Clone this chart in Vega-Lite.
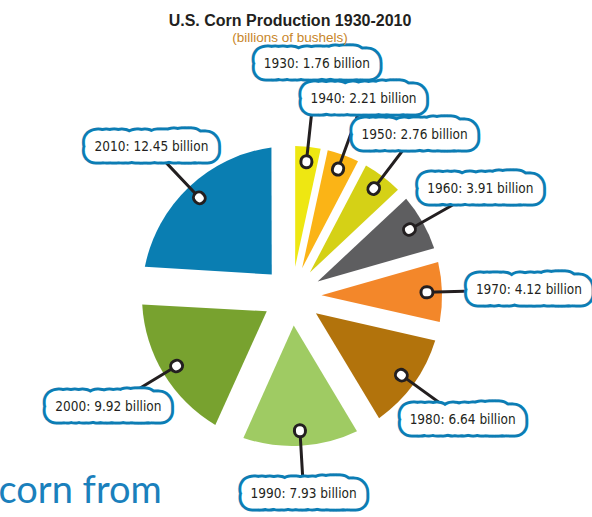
{
  "$schema": "https://vega.github.io/schema/vega-lite/v6.json",
  "width": 584,
  "height": 442,
  "autosize": {"type": "none"},
  "padding": {"left": 0, "top": 75, "right": 8, "bottom": 0},
  "background": "#ffffff",
  "view": {"stroke": null},
  "config": {"font": "Liberation Sans"},
  "title": {
    "text": "U.S. Corn Production 1930-2010",
    "subtitle": "(billions of bushels)",
    "font": "Liberation Sans",
    "fontSize": 16,
    "fontWeight": "bold",
    "color": "#231f20",
    "subtitleFont": "Liberation Sans",
    "subtitleFontSize": 13.5,
    "subtitleColor": "#c8862a",
    "subtitlePadding": 2,
    "anchor": "middle",
    "offset": 13,
    "dx": -2
  },
  "data": {
    "values": [
      {"year": "1930", "value": 1.76, "label": "1930: 1.76 billion"},
      {"year": "1940", "value": 2.21, "label": "1940: 2.21 billion"},
      {"year": "1950", "value": 2.76, "label": "1950: 2.76 billion"},
      {"year": "1960", "value": 3.91, "label": "1960: 3.91 billion"},
      {"year": "1970", "value": 4.12, "label": "1970: 4.12 billion"},
      {"year": "1980", "value": 6.64, "label": "1980: 6.64 billion"},
      {"year": "1990", "value": 7.93, "label": "1990: 7.93 billion"},
      {"year": "2000", "value": 9.92, "label": "2000: 9.92 billion"},
      {"year": "2010", "value": 12.45, "label": "2010: 12.45 billion"}
    ]
  },
  "layer": [
    {
      "encoding": {
        "theta": {"field": "value", "type": "quantitative", "stack": true},
        "order": {"field": "year", "type": "ordinal"}
      },
      "layer": [
        {
          "mark": {
            "type": "arc",
            "radius": 150,
            "radius2": 29.5,
            "padAngle": {"expr": "2*asin(30*sin((scale('theta',datum.value_end)-scale('theta',datum.value_start))/2)/152.87)"}
          },
          "encoding": {
            "color": {
              "field": "year",
              "type": "nominal",
              "legend": null,
              "scale": {
                "domain": ["1930", "1940", "1950", "1960", "1970", "1980", "1990", "2000", "2010"],
                "range": ["#eee712", "#fbb416", "#d5d116", "#5e5e60", "#f3872a", "#b2730c", "#9fcb63", "#78a22f", "#0a7eb2"]
              }
            }
          }
        },
        {
          "mark": {
            "type": "arc",
            "filled": false,
            "stroke": "#231f20",
            "strokeWidth": 3,
            "padAngle": 3.14,
            "radius": {"expr": "180+min(57/max(abs(sin(scale('theta',0.5*datum.value_start+0.5*datum.value_end))),0.01),18/max(abs(cos(scale('theta',0.5*datum.value_start+0.5*datum.value_end))),0.01))+55*max(0,2.4-datum.value)"},
            "radius2": 135
          },
          "encoding": {}
        },
        {
          "mark": {
            "type": "text",
            "radius": {"expr": "180+min(57/max(abs(sin(scale('theta',0.5*datum.value_start+0.5*datum.value_end))),0.01),18/max(abs(cos(scale('theta',0.5*datum.value_start+0.5*datum.value_end))),0.01))+55*max(0,2.4-datum.value)"},
            "font": "DejaVu Sans Condensed, Roboto Condensed, Liberation Sans Narrow, Roboto, sans-serif",
            "fontSize": 13.5,
            "fill": "#0c7db4",
            "stroke": "#0c7db4",
            "strokeWidth": 27,
            "strokeJoin": "round"
          },
          "encoding": {"text": {"field": "label"}}
        },
        {
          "mark": {
            "type": "text",
            "radius": {"expr": "180+min(57/max(abs(sin(scale('theta',0.5*datum.value_start+0.5*datum.value_end))),0.01),18/max(abs(cos(scale('theta',0.5*datum.value_start+0.5*datum.value_end))),0.01))+55*max(0,2.4-datum.value)"},
            "font": "DejaVu Sans Condensed, Roboto Condensed, Liberation Sans Narrow, Roboto, sans-serif",
            "fontSize": 13.5,
            "fill": "#ffffff",
            "stroke": "#ffffff",
            "strokeWidth": 21,
            "strokeJoin": "round"
          },
          "encoding": {"text": {"field": "label"}}
        },
        {
          "mark": {
            "type": "text",
            "radius": {"expr": "180+min(57/max(abs(sin(scale('theta',0.5*datum.value_start+0.5*datum.value_end))),0.01),18/max(abs(cos(scale('theta',0.5*datum.value_start+0.5*datum.value_end))),0.01))+55*max(0,2.4-datum.value)"},
            "font": "DejaVu Sans Condensed, Roboto Condensed, Liberation Sans Narrow, Roboto, sans-serif",
            "fontSize": 13.5,
            "fill": "#231f20"
          },
          "encoding": {"text": {"field": "label"}}
        },
        {
          "mark": {
            "type": "arc",
            "filled": false,
            "stroke": "#231f20",
            "strokeWidth": 14,
            "strokeJoin": "round",
            "strokeCap": "round",
            "padAngle": 3.14,
            "radius": 135.5,
            "radius2": 134.5
          },
          "encoding": {}
        },
        {
          "mark": {
            "type": "arc",
            "filled": false,
            "stroke": "#ffffff",
            "strokeWidth": 8,
            "strokeJoin": "round",
            "strokeCap": "round",
            "padAngle": 3.14,
            "radius": 135.5,
            "radius2": 134.5
          },
          "encoding": {}
        }
      ]
    },
    {
      "mark": {"type": "rule", "opacity": 0},
      "encoding": {
        "x": {
          "field": "value",
          "type": "quantitative",
          "axis": {
            "title": "corn from",
            "domain": false,
            "ticks": false,
            "labels": false,
            "grid": false,
            "titleFont": "Lato",
            "titleFontSize": 38,
            "titleFontWeight": "normal",
            "titleColor": "#1a80bc",
            "titleAnchor": "start",
            "titleAlign": "left",
            "titleBaseline": "alphabetic",
            "titleX": -2,
            "titleY": -15
          }
        }
      }
    }
  ]
}
